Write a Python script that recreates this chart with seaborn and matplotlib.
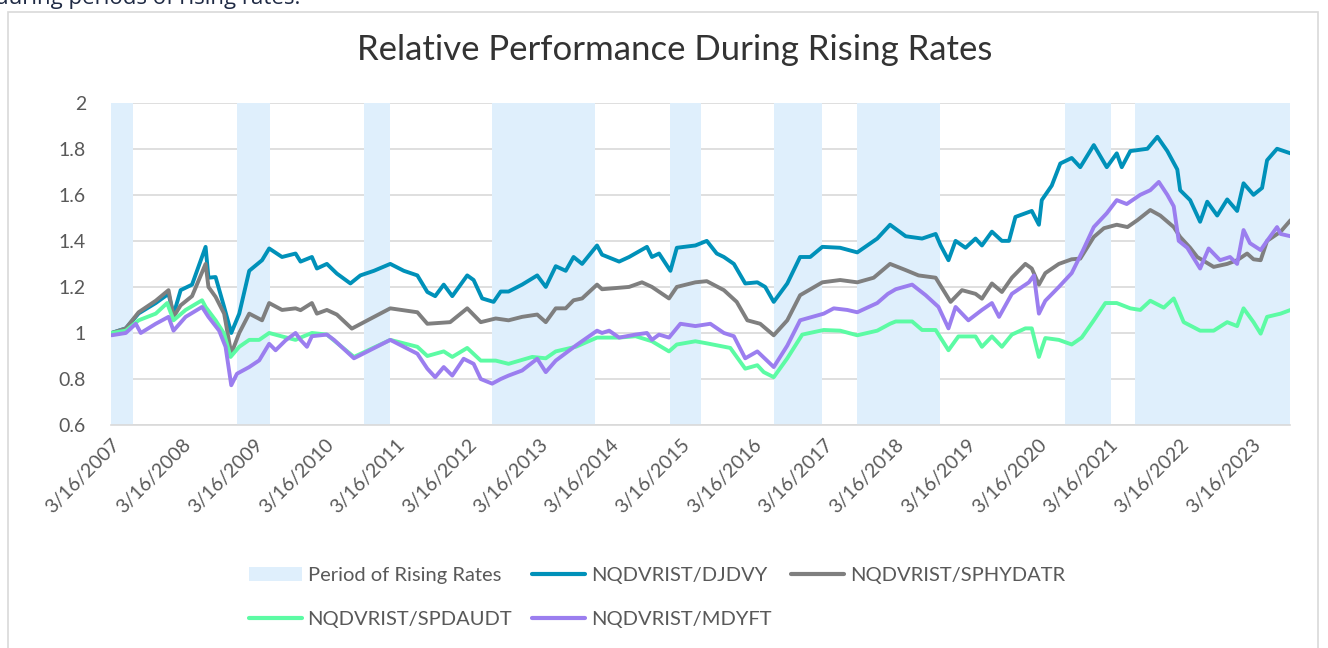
import pandas as pd
import matplotlib
matplotlib.use("Agg")
import matplotlib.pyplot as plt
from matplotlib.lines import Line2D
from matplotlib.patches import Patch, Rectangle
from matplotlib.ticker import FuncFormatter
import seaborn as sns

# values (x in decimal years)
djdvy_years = [2007.21, 2007.41, 2007.59, 2007.83, 2008.01, 2008.08, 2008.18, 2008.34, 2008.53, 2008.57,
               2008.67, 2008.79, 2008.89, 2009.00, 2009.14, 2009.32, 2009.42, 2009.60, 2009.79, 2009.86,
               2010.02, 2010.09, 2010.23, 2010.37, 2010.56, 2010.70, 2010.89, 2011.12, 2011.31, 2011.50,
               2011.64, 2011.75, 2011.87, 2011.99, 2012.20, 2012.29, 2012.41, 2012.57, 2012.67, 2012.78,
               2012.97, 2013.18, 2013.30, 2013.44, 2013.58, 2013.69, 2013.81, 2014.02, 2014.09, 2014.33,
               2014.47, 2014.72, 2014.79, 2014.89, 2015.05, 2015.14, 2015.40, 2015.56, 2015.70, 2015.80,
               2015.94, 2016.10, 2016.27, 2016.38, 2016.50, 2016.69, 2016.87, 2017.01, 2017.18, 2017.43,
               2017.67, 2017.95, 2018.13, 2018.35, 2018.58, 2018.77, 2018.84, 2018.95, 2019.05, 2019.19,
               2019.33, 2019.42, 2019.56, 2019.70, 2019.80, 2019.89, 2020.12, 2020.22, 2020.26, 2020.40,
               2020.52, 2020.68, 2020.80, 2020.99, 2021.17, 2021.31, 2021.38, 2021.50, 2021.74, 2021.88,
               2022.02, 2022.16, 2022.20, 2022.34, 2022.48, 2022.58, 2022.72, 2022.86, 2023.00, 2023.09,
               2023.23, 2023.35, 2023.42, 2023.56, 2023.75]
djdvy = [1.00, 1.02, 1.085, 1.13, 1.17, 1.08, 1.186, 1.21, 1.374, 1.24,
         1.243, 1.113, 1.00, 1.084, 1.27, 1.316, 1.367, 1.33, 1.345, 1.31,
         1.33, 1.28, 1.30, 1.258, 1.215, 1.25, 1.27, 1.30, 1.27, 1.25,
         1.178, 1.16, 1.21, 1.16, 1.25, 1.23, 1.15, 1.135, 1.18, 1.18,
         1.21, 1.25, 1.20, 1.29, 1.27, 1.33, 1.30, 1.38, 1.34, 1.31,
         1.33, 1.374, 1.33, 1.345, 1.27, 1.37, 1.38, 1.40, 1.345, 1.33,
         1.30, 1.215, 1.22, 1.20, 1.135, 1.215, 1.33, 1.33, 1.374, 1.37,
         1.35, 1.41, 1.47, 1.42, 1.41, 1.43, 1.38, 1.316, 1.40, 1.37,
         1.41, 1.38, 1.44, 1.40, 1.40, 1.504, 1.53, 1.47, 1.577, 1.64,
         1.736, 1.76, 1.72, 1.816, 1.72, 1.78, 1.72, 1.79, 1.80, 1.852,
         1.79, 1.71, 1.62, 1.577, 1.483, 1.57, 1.51, 1.58, 1.53, 1.65,
         1.60, 1.63, 1.75, 1.80, 1.78]

sphydatr_years = [2007.21, 2007.41, 2007.59, 2007.83, 2008.01, 2008.08, 2008.18, 2008.34, 2008.53, 2008.57,
                  2008.67, 2008.79, 2008.89, 2009.00, 2009.14, 2009.32, 2009.42, 2009.60, 2009.79, 2009.86,
                  2010.02, 2010.09, 2010.23, 2010.37, 2010.58, 2010.80, 2011.12, 2011.50, 2011.64, 2011.96,
                  2012.20, 2012.39, 2012.60, 2012.78, 2012.97, 2013.18, 2013.30, 2013.44, 2013.58, 2013.69,
                  2013.81, 2014.02, 2014.09, 2014.47, 2014.65, 2014.79, 2015.03, 2015.14, 2015.40, 2015.56,
                  2015.80, 2015.98, 2016.13, 2016.31, 2016.50, 2016.69, 2016.87, 2017.18, 2017.43, 2017.67,
                  2017.90, 2018.13, 2018.35, 2018.53, 2018.77, 2018.98, 2019.14, 2019.33, 2019.42, 2019.56,
                  2019.70, 2019.84, 2020.03, 2020.12, 2020.22, 2020.31, 2020.50, 2020.68, 2020.80, 2020.99,
                  2021.13, 2021.31, 2021.46, 2021.60, 2021.78, 2021.92, 2022.11, 2022.20, 2022.34, 2022.44,
                  2022.67, 2022.86, 2023.00, 2023.14, 2023.23, 2023.33, 2023.42, 2023.61, 2023.75]
sphydatr = [1.00, 1.02, 1.09, 1.14, 1.186, 1.07, 1.12, 1.16, 1.30, 1.20,
            1.157, 1.084, 0.91, 1.00, 1.084, 1.055, 1.13, 1.10, 1.107, 1.099,
            1.13, 1.084, 1.10, 1.08, 1.019, 1.055, 1.107, 1.09, 1.04, 1.047,
            1.107, 1.047, 1.063, 1.055, 1.07, 1.08, 1.047, 1.107, 1.107, 1.142,
            1.15, 1.21, 1.19, 1.20, 1.22, 1.20, 1.15, 1.20, 1.22, 1.225,
            1.186, 1.135, 1.055, 1.04, 0.99, 1.055, 1.164, 1.22, 1.23, 1.22,
            1.24, 1.30, 1.273, 1.25, 1.24, 1.135, 1.186, 1.17, 1.149, 1.215,
            1.178, 1.24, 1.30, 1.28, 1.21, 1.26, 1.30, 1.32, 1.323, 1.417,
            1.455, 1.47, 1.46, 1.49, 1.534, 1.51, 1.46, 1.417, 1.37, 1.33,
            1.287, 1.30, 1.316, 1.345, 1.32, 1.316, 1.40, 1.44, 1.49]

spdaudt_years = [2007.21, 2007.41, 2007.59, 2007.83, 2007.99, 2008.08, 2008.25, 2008.48, 2008.53, 2008.67,
                 2008.79, 2008.88, 2009.00, 2009.14, 2009.28, 2009.42, 2009.60, 2009.79, 2009.86, 2010.02,
                 2010.23, 2010.61, 2011.12, 2011.50, 2011.64, 2011.87, 2011.99, 2012.20, 2012.39, 2012.60,
                 2012.78, 2013.11, 2013.30, 2013.44, 2013.72, 2014.02, 2014.33, 2014.56, 2014.79, 2015.03,
                 2015.14, 2015.40, 2015.56, 2015.89, 2016.10, 2016.27, 2016.36, 2016.50, 2016.69, 2016.90,
                 2017.20, 2017.43, 2017.67, 2017.95, 2018.13, 2018.21, 2018.44, 2018.58, 2018.77, 2018.95,
                 2019.09, 2019.33, 2019.42, 2019.56, 2019.70, 2019.84, 2020.03, 2020.12, 2020.22, 2020.31,
                 2020.50, 2020.68, 2020.82, 2020.99, 2021.15, 2021.31, 2021.50, 2021.64, 2021.78, 2021.97,
                 2022.11, 2022.25, 2022.48, 2022.67, 2022.86, 2023.00, 2023.09, 2023.23, 2023.33, 2023.42,
                 2023.61, 2023.75]
spdaudt = [1.00, 1.01, 1.055, 1.084, 1.13, 1.055, 1.10, 1.142, 1.113, 1.055,
           0.997, 0.896, 0.94, 0.97, 0.97, 1.00, 0.985, 0.97, 0.98, 1.00,
           0.993, 0.896, 0.97, 0.94, 0.90, 0.92, 0.896, 0.935, 0.88, 0.88,
           0.866, 0.896, 0.89, 0.92, 0.94, 0.98, 0.98, 0.986, 0.964, 0.92,
           0.95, 0.964, 0.955, 0.935, 0.845, 0.86, 0.83, 0.808, 0.89, 0.993,
           1.013, 1.01, 0.99, 1.01, 1.04, 1.05, 1.05, 1.013, 1.013, 0.925,
           0.985, 0.985, 0.94, 0.985, 0.94, 0.993, 1.02, 1.02, 0.896, 0.978,
           0.97, 0.95, 0.98, 1.055, 1.13, 1.13, 1.107, 1.10, 1.14, 1.11,
           1.15, 1.047, 1.01, 1.01, 1.047, 1.03, 1.107, 1.047, 0.997, 1.07,
           1.084, 1.10]

mdyft_years = [2007.21, 2007.41, 2007.55, 2007.62, 2007.83, 2008.01, 2008.08, 2008.25, 2008.48, 2008.57,
               2008.72, 2008.81, 2008.89, 2008.97, 2009.14, 2009.28, 2009.42, 2009.51, 2009.65, 2009.79,
               2009.86, 2009.95, 2010.02, 2010.23, 2010.33, 2010.61, 2011.12, 2011.50, 2011.64, 2011.75,
               2011.87, 2011.99, 2012.15, 2012.29, 2012.39, 2012.55, 2012.67, 2012.78, 2012.97, 2013.18,
               2013.30, 2013.44, 2013.72, 2014.02, 2014.09, 2014.19, 2014.33, 2014.56, 2014.72, 2014.79,
               2014.89, 2015.03, 2015.19, 2015.40, 2015.61, 2015.80, 2015.94, 2016.10, 2016.27, 2016.50,
               2016.69, 2016.87, 2017.20, 2017.34, 2017.53, 2017.67, 2017.95, 2018.10, 2018.21, 2018.44,
               2018.63, 2018.81, 2018.95, 2019.05, 2019.23, 2019.42, 2019.56, 2019.66, 2019.84, 2020.08,
               2020.15, 2020.22, 2020.31, 2020.50, 2020.68, 2020.84, 2020.99, 2021.17, 2021.31, 2021.45,
               2021.64, 2021.78, 2021.90, 2022.02, 2022.11, 2022.18, 2022.30, 2022.48, 2022.60, 2022.76,
               2022.90, 2023.00, 2023.09, 2023.18, 2023.33, 2023.42, 2023.56, 2023.61, 2023.75]
mdyft = [0.99, 1.00, 1.04, 1.00, 1.04, 1.07, 1.01, 1.07, 1.113, 1.07,
         1.01, 0.94, 0.773, 0.823, 0.852, 0.881, 0.953, 0.925, 0.968, 1.00,
         0.97, 0.94, 0.986, 0.993, 0.97, 0.89, 0.97, 0.91, 0.845, 0.808,
         0.852, 0.815, 0.888, 0.866, 0.80, 0.78, 0.80, 0.815, 0.837, 0.888,
         0.83, 0.88, 0.945, 1.01, 1.00, 1.01, 0.98, 0.993, 1.00, 0.97,
         0.993, 0.98, 1.04, 1.03, 1.04, 1.00, 0.986, 0.89, 0.92, 0.852,
         0.945, 1.055, 1.084, 1.107, 1.10, 1.09, 1.13, 1.17, 1.19, 1.21,
         1.164, 1.113, 1.02, 1.113, 1.055, 1.10, 1.13, 1.07, 1.17, 1.22,
         1.25, 1.084, 1.14, 1.20, 1.26, 1.36, 1.46, 1.52, 1.577, 1.56,
         1.60, 1.62, 1.656, 1.60, 1.55, 1.40, 1.37, 1.28, 1.367, 1.316,
         1.33, 1.30, 1.447, 1.39, 1.36, 1.40, 1.46, 1.43, 1.42]

rising_starts = ["2007-03-16", "2008-12-21", "2010-10-03", "2012-07-20", "2015-01-19",
                 "2016-07-01", "2017-09-01", "2020-08-01", "2021-07-29"]
rising_ends = ["2007-07-06", "2009-06-10", "2011-02-13", "2013-12-31", "2015-06-24",
               "2017-03-06", "2018-11-01", "2021-03-25", "2023-09-29"]

series_names = ["NQDVRIST/DJDVY", "NQDVRIST/SPHYDATR", "NQDVRIST/SPDAUDT", "NQDVRIST/MDYFT"]
colors = ["#0091B9", "#7F7F7F", "#5CFBA4", "#9B7EEF"]
shade_color = "#DFEFFC"
text_color = "#595959"


def to_date(y):
    year = int(y)
    return pd.Timestamp(year=year, month=1, day=1) + pd.Timedelta(days=(y - year) * 365.25)


frames = []
for name, yrs, vals in zip(series_names,
                           [djdvy_years, sphydatr_years, spdaudt_years, mdyft_years],
                           [djdvy, sphydatr, spdaudt, mdyft]):
    frames.append(pd.DataFrame({"date": [to_date(y) for y in yrs], "value": vals, "series": name}))
df = pd.concat(frames, ignore_index=True)

sns.set_style("white")
plt.rcParams["font.family"] = ["Lato", "DejaVu Sans"]

fig = plt.figure(figsize=(13.28, 6.48), dpi=100)
ax = fig.add_axes([0.0836, 0.344, 0.8878, 0.4975])

# outer chart border and clipped caption text above it
fig.patches.append(Rectangle((8 / 1328, -0.02), 1310 / 1328, 1.02 - 12 / 648, transform=fig.transFigure,
                             fill=False, edgecolor="#D9D9D9", linewidth=1.2))
fig.text(-0.004, 0.994, "during periods of rising rates.", fontsize=16, color="#1F2A44",
         family=["Open Sans", "DejaVu Sans"], va="baseline")

for s, e in zip(rising_starts, rising_ends):
    ax.axvspan(pd.Timestamp(s), pd.Timestamp(e), color=shade_color, lw=0, zorder=1)

sns.lineplot(data=df, x="date", y="value", hue="series", hue_order=series_names,
             palette=dict(zip(series_names, colors)), estimator=None, sort=True,
             linewidth=2.8, legend=False, ax=ax, zorder=3)

ax.set_ylim(0.6, 2.0)
ax.set_xlim(pd.Timestamp("2007-03-16"), pd.Timestamp("2023-09-29"))
ax.set_yticks([0.6, 0.8, 1.0, 1.2, 1.4, 1.6, 1.8, 2.0])
ax.yaxis.set_major_formatter(FuncFormatter(lambda v, p: f"{v:g}"))
ax.set_axisbelow(True)
ax.grid(axis="y", color="#D9D9D9", linewidth=1.2, zorder=0.5)
ax.grid(axis="x", visible=False)

tick_dates = [pd.Timestamp(year=y, month=3, day=16) for y in range(2007, 2024)]
ax.set_xticks(tick_dates)
ax.set_xticklabels([f"3/16/{d.year}" for d in tick_dates])
plt.setp(ax.get_xticklabels(), rotation=45, ha="right", rotation_mode="anchor")
ax.tick_params(axis="x", length=5, width=1, color="#BFBFBF", labelsize=14, labelcolor=text_color, pad=3)
ax.tick_params(axis="y", length=0, labelsize=14, labelcolor=text_color, pad=18)

for side in ["top", "right", "left"]:
    ax.spines[side].set_visible(False)
ax.spines["bottom"].set_color("#D9D9D9")
ax.spines["bottom"].set_linewidth(1.2)
ax.spines["bottom"].set_zorder(4)
ax.set_xlabel("")
ax.set_ylabel("")

fig.text(0.508, 0.923, "Relative Performance During Rising Rates", ha="center", va="center",
         fontsize=25, color="#333333", family=["Lato", "DejaVu Sans"], fontweight="normal")

handles = [
    Patch(facecolor=shade_color, edgecolor="none"),
    Line2D([0], [0], color=colors[2], lw=3),
    Line2D([0], [0], color=colors[0], lw=3),
    Line2D([0], [0], color=colors[3], lw=3),
    Line2D([0], [0], color=colors[1], lw=3),
]
labels = ["Period of Rising Rates", series_names[2], series_names[0], series_names[3], series_names[1]]
fig.legend(handles, labels, ncol=3, loc="center left", bbox_to_anchor=(0.174, 0.078), frameon=False,
           fontsize=14.5, labelcolor=text_color, handlelength=2.6, handletextpad=0.3,
           columnspacing=1.0, labelspacing=1.35)

fig.savefig("out.png", dpi=100)
